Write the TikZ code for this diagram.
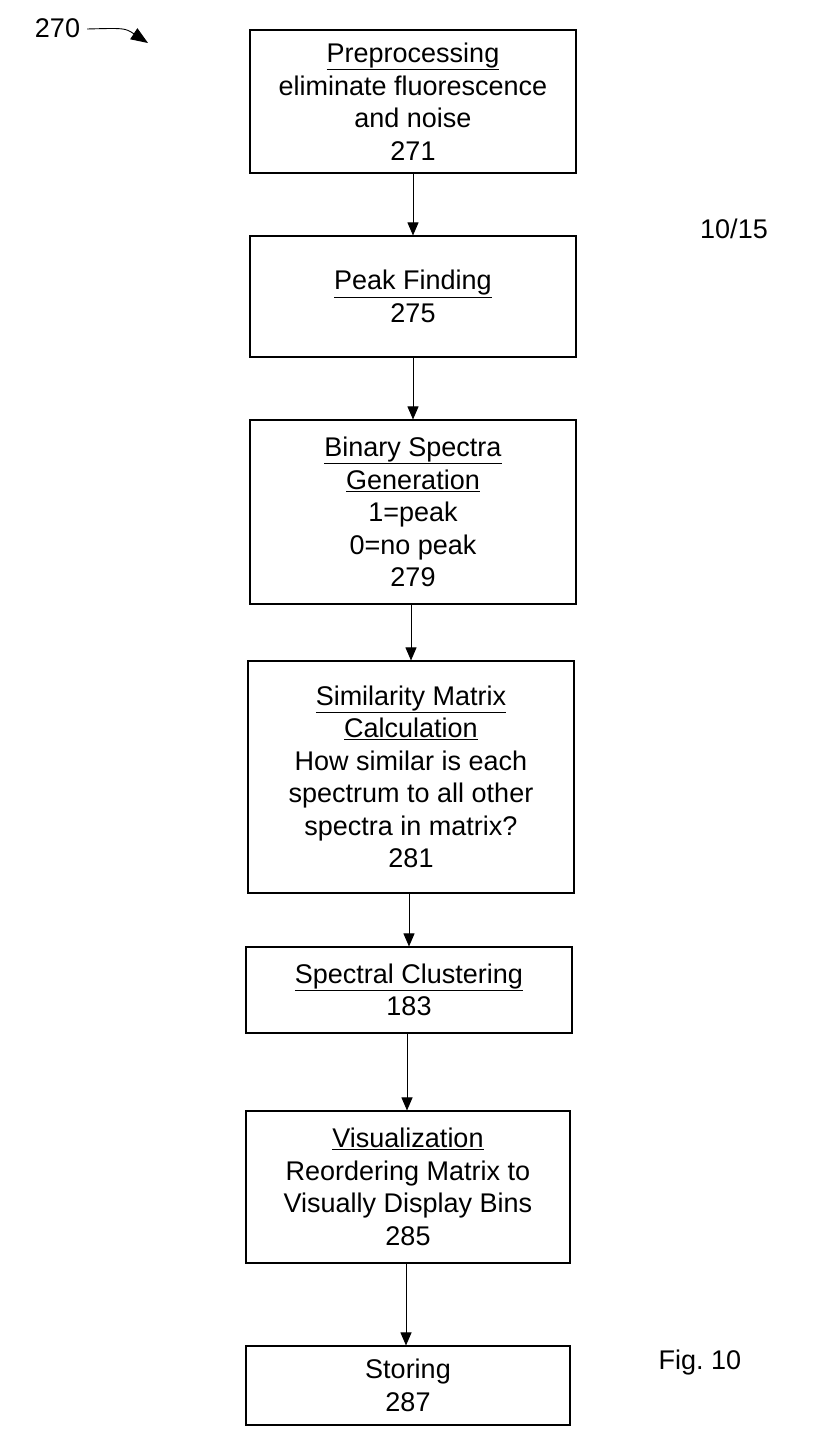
\documentclass[tikz,border=0pt]{standalone}
\usepackage{fontspec}
\setmainfont{Liberation Sans}
\usetikzlibrary{arrows.meta}
\begin{document}
\begin{tikzpicture}[x=1pt,y=-1pt,
  box/.style={draw, line width=1.1pt, align=center, font=\fontsize{27}{32.5}\selectfont, inner sep=0pt, minimum width=326pt},
  arr/.style={draw, line width=0.9pt, -{Triangle[length=13pt,width=11pt]}},
  lbl/.style={font=\fontsize{27}{32.5}\selectfont, inner sep=0pt}]
\useasboundingbox (0,0) rectangle (835,1454);

\node[box, minimum height=143pt] (b1) at (413,101.5) {\underline{Preprocessing}\\eliminate fluorescence\\and noise\\271};
\node[box, minimum height=121pt] (b2) at (413,296.5) {\underline{Peak Finding}\\275};
\node[box, minimum height=184pt] (b3) at (413,512) {\underline{Binary Spectra}\\\underline{Generation}\\1=peak\\0=no peak\\279};
\node[box, minimum height=232pt] (b4) at (411,777) {\underline{Similarity Matrix}\\\underline{Calculation}\\How similar is each\\spectrum to all other\\spectra in matrix?\\281};
\node[box, minimum height=86pt] (b5) at (409,990) {\underline{Spectral Clustering}\\183};
\node[box, minimum height=152pt, minimum width=324pt] (b6) at (408,1187) {\underline{Visualization}\\Reordering Matrix to\\Visually Display Bins\\285};
\node[box, minimum height=79pt, minimum width=324pt] (b7) at (408,1385.5) {Storing\\287};

\draw[arr] (b1.south) -- (b1.south |- b2.north);
\draw[arr] (b2.south) -- (b2.south |- b3.north);
\draw[arr] ([xshift=-2pt]b3.south) -- ([xshift=-2pt]b3.south |- b4.north);
\draw[arr] ([xshift=-2pt]b4.south) -- ([xshift=-2pt]b4.south |- b5.north);
\draw[arr] ([xshift=-2pt]b5.south) -- ([xshift=-2pt]b5.south |- b6.north);
\draw[arr] ([xshift=-2pt]b6.south) -- ([xshift=-2pt]b6.south |- b7.north);

\node[lbl] (n270) at (57.5,28) {270};
\node[lbl] (pg) at (734,229) {10/15};
\node[lbl] (fig) at (700,1363) {Fig.\ 10};
\coordinate (t270) at (148,43);
\draw[line width=0.9pt, -{Triangle[length=17pt,width=13pt]}] ([xshift=7pt,yshift=-1pt]n270.east) .. controls (125,28) .. (t270);
\end{tikzpicture}
\end{document}
